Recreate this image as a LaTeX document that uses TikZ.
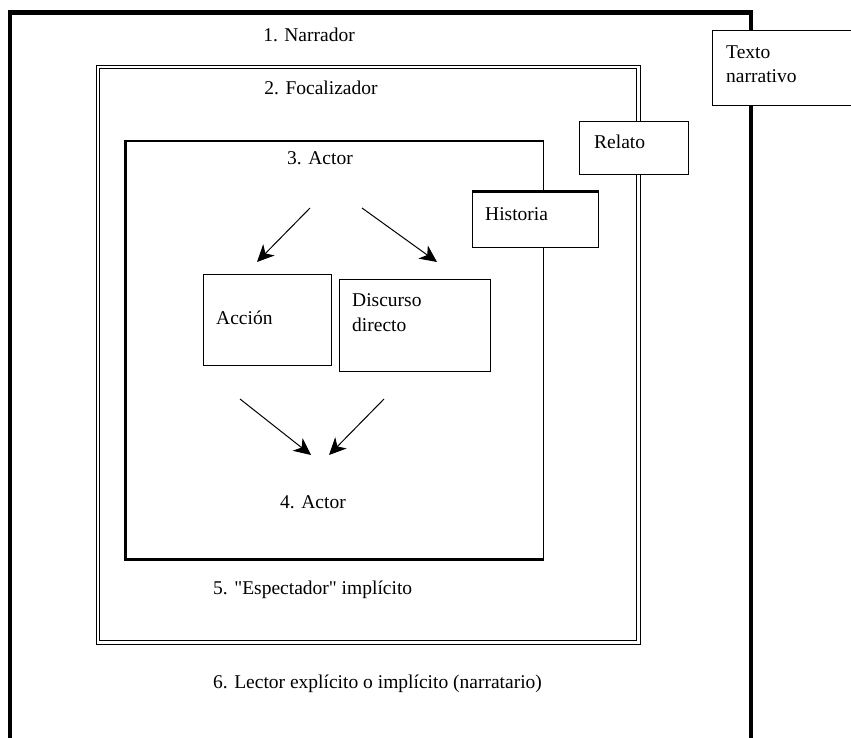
\documentclass[tikz,border=0pt]{standalone}
\usepackage{fontspec}
\setmainfont{Liberation Serif}
\usetikzlibrary{arrows.meta}
\newcommand{\sq}{{\addfontfeature{Ligatures=TeXOff}"}}
\begin{document}
\begin{tikzpicture}[x=1pt,y=-1pt,
  lbl/.style={inner sep=0pt, font=\fontsize{19.5}{22}\selectfont, anchor=west},
  box/.style={draw, fill=white, line width=1.4pt, inner sep=0pt, anchor=north west},
  arr/.style={line width=1pt, -{Stealth[length=17pt,width=16pt,inset=5pt]}}]
\useasboundingbox[fill=white] (0,0) rectangle (851,738);
% 1. outer box (Narrador)
\draw[line width=4.5pt] (10,745) -- (10,12.5) -- (751,12.5) -- (751,745);
% 2. double box (Focalizador)
\node[draw, double, line width=1.2pt, double distance=2.2pt, inner sep=0pt,
      anchor=north west, minimum width=540.5pt, minimum height=575.5pt] (foc) at (97.3,66.3) {};
% 3. actor box
\node[draw, line width=1.4pt, inner sep=0pt, anchor=north west,
      minimum width=417pt, minimum height=418pt] (actor) at (125.5,140.5) {};
\draw[line width=3pt] (actor.north west) -- (actor.south west) -- (actor.south east);
% side boxes
\node[box, minimum width=109pt, minimum height=53pt] (relato) at (579,121) {};
\node[box, minimum width=126pt, minimum height=55pt] (historia) at (472,192) {};
\draw[line width=3pt] (historia.north west) -- (historia.north east);
\node[box, minimum width=160pt, minimum height=75pt] (texto) at (712,30) {};
% inner boxes
\node[box, minimum width=128pt, minimum height=91pt] (accion) at (203,274) {};
\node[box, minimum width=151pt, minimum height=92pt] (discurso) at (339,279) {};
% labels
\node[lbl, anchor=center] (l1) at (309,35) {1. Narrador};
\node[lbl, anchor=center] (l2) at (321,88) {2. Focalizador};
\node[lbl, anchor=center] (l3) at (320,158) {3. Actor};
\node[lbl, anchor=center] (l4) at (313,502) {4. Actor};
\node[lbl, anchor=west] (l5) at (213,590) {5. \sq Espectador\sq{} implícito};
\node[lbl, anchor=west] (l6) at (213,684) {6. Lector explícito o implícito (narratario)};
\node[lbl] (trelato) at (594,142) {Relato};
\node[lbl] (thistoria) at (485,214) {Historia};
\node[lbl] (ttexto1) at (726,52) {Texto};
\node[lbl] (ttexto2) at (726,76) {narrativo};
\node[lbl] (taccion) at (216,318) {Acción};
\node[lbl] (tdisc1) at (352,300) {Discurso};
\node[lbl] (tdisc2) at (352,325) {directo};
% arrows
\coordinate (a1s) at (310,208); \coordinate (a1e) at (257,262);
\coordinate (a2s) at (362,208); \coordinate (a2e) at (437,262);
\coordinate (a3s) at (240,399); \coordinate (a3e) at (311,455);
\coordinate (a4s) at (384,399); \coordinate (a4e) at (329,455);
\draw[arr] (a1s) -- (a1e);
\draw[arr] (a2s) -- (a2e);
\draw[arr] (a3s) -- (a3e);
\draw[arr] (a4s) -- (a4e);
\end{tikzpicture}
\end{document}
